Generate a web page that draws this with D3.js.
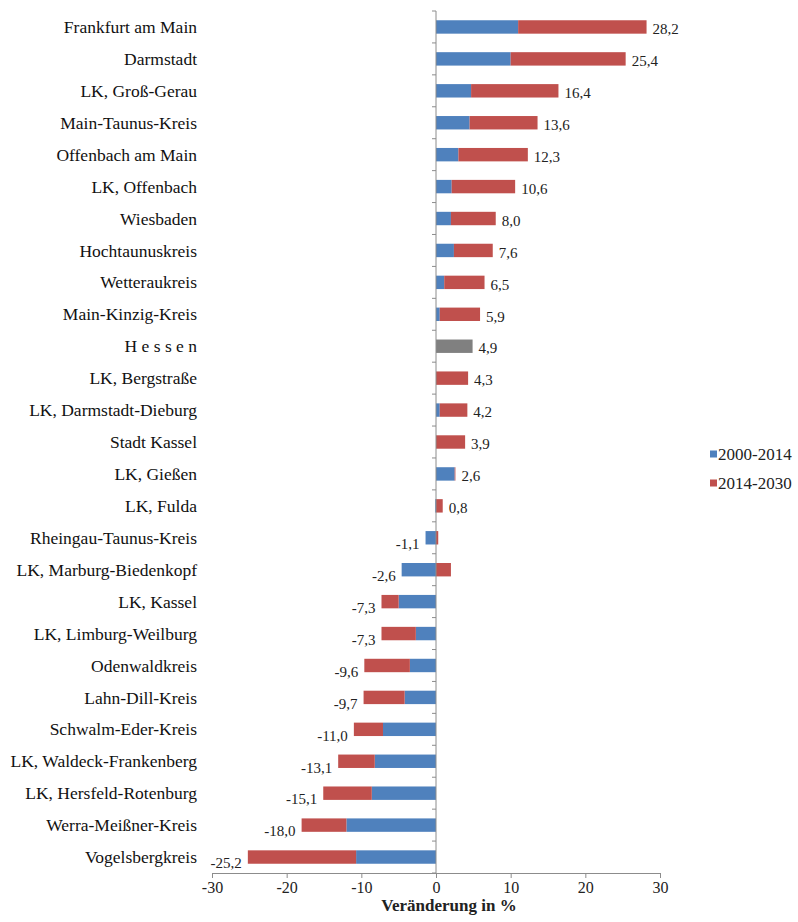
<!DOCTYPE html>
<html><head><meta charset="utf-8">
<script src="https://cdn.jsdelivr.net/npm/d3@7"></script>
</head>
<body style="margin:0">
<script>
const categories = ["Frankfurt am Main","Darmstadt","LK, Groß-Gerau","Main-Taunus-Kreis","Offenbach am Main","LK, Offenbach","Wiesbaden","Hochtaunuskreis","Wetteraukreis","Main-Kinzig-Kreis","H e s s e n","LK, Bergstraße","LK, Darmstadt-Dieburg","Stadt Kassel","LK, Gießen","LK, Fulda","Rheingau-Taunus-Kreis","LK, Marburg-Biedenkopf","LK, Kassel","LK, Limburg-Weilburg","Odenwaldkreis","Lahn-Dill-Kreis","Schwalm-Eder-Kreis","LK, Waldeck-Frankenberg","LK, Hersfeld-Rotenburg","Werra-Meißner-Kreis","Vogelsbergkreis"];
const series2000_2014 = [11.0,10.0,4.7,4.5,3.0,2.1,2.0,2.4,1.1,0.5,0,0,0.5,0,2.5,-0.1,-1.4,-4.6,-5.0,-2.7,-3.5,-4.2,-7.1,-8.2,-8.6,-12.0,-10.7];
const series2014_2030 = [17.2,15.4,11.7,9.1,9.3,8.5,6.0,5.2,5.4,5.4,0,4.3,3.7,3.9,0.1,0.9,0.3,2.0,-2.3,-4.6,-6.1,-5.5,-3.9,-4.9,-6.5,-6.0,-14.5];
const hessenTotal = [0,0,0,0,0,0,0,0,0,0,4.9,0,0,0,0,0,0,0,0,0,0,0,0,0,0,0,0];
const totals = [28.2,25.4,16.4,13.6,12.3,10.6,8.0,7.6,6.5,5.9,4.9,4.3,4.2,3.9,2.6,0.8,-1.1,-2.6,-7.3,-7.3,-9.6,-9.7,-11.0,-13.1,-15.1,-18.0,-25.2];
const xTicks = [-30,-20,-10,0,10,20,30];
const seriesNames = ["2000-2014","2014-2030"];

const W = 798, H = 922;
const FONT = "'Liberation Serif', 'Tinos', 'Times New Roman', 'Times'";
const svg = d3.select("body").append("svg").attr("width", W).attr("height", H)
  .style("display","block").style("font-family", FONT);

const x = d3.scaleLinear().domain([-30, 30]).range([212, 660]);
const y = d3.scaleBand().domain(categories).range([11, 873]).paddingInner(0.58).paddingOuter(0.29);

const colors = {"2000-2014":"#4F81BD","2014-2030":"#C0504D"};

const rows = categories.map((c,i)=>({c, a:series2000_2014[i], b:series2014_2030[i], h:hessenTotal[i], t:totals[i]}));
const segs = [];
rows.forEach(r=>{
  let pos = 0, neg = 0;
  [[r.a,"2000-2014"],[r.b,"2014-2030"]].forEach(([v,name])=>{
    if (v >= 0) { segs.push({c:r.c, x0:pos, x1:pos+v, color:colors[name]}); pos += v; }
    else { segs.push({c:r.c, x0:neg+v, x1:neg, color:colors[name]}); neg += v; }
  });
  if (r.h) segs.push({c:r.c, x0:0, x1:r.h, color:"#808080"});
  r.pos = Math.max(pos, r.h); r.neg = neg;
});

svg.append("g").selectAll("rect").data(segs).join("rect")
  .attr("x", d=>x(d.x0))
  .attr("width", d=>Math.max(0, x(d.x1)-x(d.x0)))
  .attr("y", d=>y(d.c))
  .attr("height", y.bandwidth())
  .attr("fill", d=>d.color);

const xAxis = d3.axisBottom(x).tickValues(xTicks).tickSize(5).tickPadding(4).tickFormat(d=>String(d));
const gx = svg.append("g").attr("transform","translate(0,873)").call(xAxis);
gx.attr("font-family", null).style("font-family", FONT);
gx.select(".domain").attr("stroke","#8c8c8c");
gx.selectAll(".tick line").attr("stroke","#8c8c8c");
gx.selectAll("text").style("font-family", FONT).attr("font-size","16px").attr("fill","#222");

const step = y.step();
const yb = d3.range(categories.length+1).map(i=>11 + i*step);
const gy = svg.append("g");
gy.append("line").attr("x1",x(0)).attr("x2",x(0)).attr("y1",11).attr("y2",873).attr("stroke","#8c8c8c");
gy.selectAll("line.t").data(yb).join("line").attr("class","t")
  .attr("x1",x(0)-4).attr("x2",x(0)).attr("y1",d=>d).attr("y2",d=>d).attr("stroke","#8c8c8c");

svg.append("g").selectAll("text").data(categories).join("text")
  .attr("x",197).attr("y",d=>y(d)+y.bandwidth()/2)
  .attr("dy","0.35em").attr("text-anchor","end")
  .style("font-family", FONT).attr("font-size","17.5px").attr("fill","#111")
  .text(d=>d);

const fmt = v => v.toFixed(1).replace(".",",");
svg.append("g").selectAll("text").data(rows).join("text")
  .attr("x", r=> r.t>=0 ? x(r.pos) + 6 : x(r.neg) - 6)
  .attr("y", r=> y(r.c)+y.bandwidth()/2 + (r.t>=0 ? 2 : 6))
  .attr("dy","0.35em")
  .attr("text-anchor", r=> r.t>=0 ? "start":"end")
  .style("font-family", FONT).attr("font-size","15px").attr("fill","#222")
  .text(r=>fmt(r.t));

svg.append("text").attr("x",449).attr("y",911).attr("text-anchor","middle")
  .style("font-family", FONT).attr("font-size","17px").attr("font-weight","bold").attr("fill","#222")
  .text("Veränderung in %");

const lg = svg.append("g");
seriesNames.forEach((n,i)=>{
  const cy = 454 + i*29;
  lg.append("rect").attr("x",710).attr("y",cy-3.5).attr("width",7).attr("height",7).attr("fill",colors[n]);
  lg.append("text").attr("x",718).attr("y",cy).attr("dy","0.35em")
    .style("font-family", FONT).attr("font-size","17px").attr("fill","#222").text(n);
});
</script>
</body></html>
